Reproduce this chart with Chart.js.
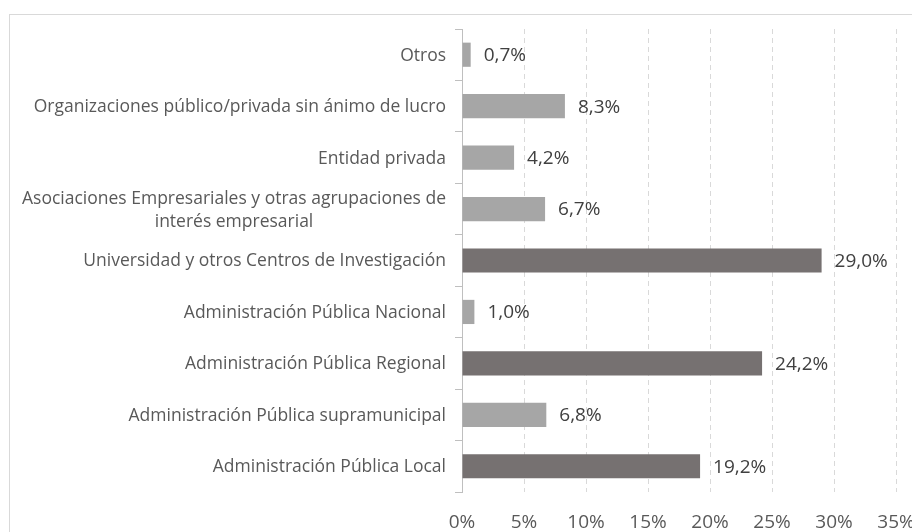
<!DOCTYPE html>
<html lang="es">
<head>
<meta charset="utf-8">
<title>Distribución por tipo de entidad</title>
<script src="https://cdn.jsdelivr.net/npm/chart.js@4.4.1/dist/chart.umd.min.js"></script>
<style>
  html, body { margin: 0; padding: 0; background: #fff; }
  canvas { display: block; }
</style>
</head>
<body>
<canvas id="grafico" width="912" height="532"></canvas>
<script>
// Datos (de arriba a abajo)
const categorias = [
  'Otros',
  'Organizaciones público/privada sin ánimo de lucro',
  'Entidad privada',
  ['Asociaciones Empresariales y otras agrupaciones de', 'interés empresarial'],
  'Universidad y otros Centros de Investigación',
  'Administración Pública Nacional',
  'Administración Pública Regional',
  'Administración Pública supramunicipal',
  'Administración Pública Local'
];
const valores = [0.7, 8.3, 4.2, 6.7, 29.0, 1.0, 24.2, 6.8, 19.2];
const destacados = [false, false, false, false, true, false, true, false, true];
const ticksX = [0, 5, 10, 15, 20, 25, 30, 35];

const GRIS_CLARO = '#A6A6A6';
const GRIS_OSCURO = '#767171';
const FUENTE = '"Open Sans", "DejaVu Sans", sans-serif';

const fmt = v => v.toFixed(1).replace('.', ',') + '%';

// Etiquetas de categorías, valores y marco
const etiquetasPlugin = {
  id: 'etiquetas',
  afterDraw(chart) {
    const { ctx, scales: { x, y } } = chart;
    ctx.save();

    ctx.strokeStyle = '#D9D9D9';
    ctx.lineWidth = 1;
    ctx.strokeRect(9.5, 14.5, 2000, 2000);

    ctx.fillStyle = '#595959';
    ctx.font = '17.5px ' + FUENTE;
    ctx.textBaseline = 'middle';
    ctx.textAlign = 'center';
    categorias.forEach((c, i) => {
      const lineas = Array.isArray(c) ? c : [c];
      const yc = y.getPixelForValue(i);
      const ancho = Math.max(...lineas.map(l => ctx.measureText(l).width));
      const derecha = x.left - 16;
      lineas.forEach((l, j) => {
        ctx.fillText(l, derecha - ancho / 2, yc + 1 + (j - (lineas.length - 1) / 2) * 23);
      });
    });

    ctx.fillStyle = '#404040';
    ctx.font = '19px ' + FUENTE;
    ctx.textAlign = 'left';
    chart.getDatasetMeta(0).data.forEach((barra, i) => {
      ctx.fillText(fmt(valores[i]), barra.x + 13, barra.y + 1);
    });
    ctx.restore();
  }
};

const ctx = document.getElementById('grafico').getContext('2d');

const grafico = new Chart(ctx, {
  type: 'bar',
  data: {
    labels: categorias,
    datasets: [{
      data: valores,
      backgroundColor: destacados.map(d => d ? GRIS_OSCURO : GRIS_CLARO),
      barPercentage: 0.47,
      categoryPercentage: 1
    }]
  },
  options: {
    indexAxis: 'y',
    responsive: false,
    animation: false,
    layout: { padding: { top: 29, right: 16, bottom: 0, left: 0 } },
    plugins: {
      legend: { display: false },
      tooltip: { enabled: false }
    },
    scales: {
      x: {
        min: 0,
        max: 35,
        afterBuildTicks: s => { s.ticks = ticksX.map(v => ({ value: v })); },
        afterFit: s => { s.height = 40; s.paddingLeft = 0; s.paddingRight = 0; },
        ticks: {
          callback: v => v + '%',
          color: '#595959',
          font: { family: FUENTE, size: 19 },
          padding: 19,
          maxRotation: 0
        },
        grid: {
          drawTicks: false,
          color: c => c.index === 0 ? 'rgba(0,0,0,0)' : '#D9D9D9'
        },
        border: { display: false, dash: [5, 4] }
      },
      y: {
        afterFit: s => { s.width = 462; },
        ticks: { display: false },
        grid: {
          drawOnChartArea: false,
          drawTicks: true,
          tickLength: 7,
          offset: true,
          color: '#BFBFBF'
        },
        border: { display: true, color: '#BFBFBF' }
      }
    }
  },
  plugins: [etiquetasPlugin]
});
</script>
</body>
</html>
